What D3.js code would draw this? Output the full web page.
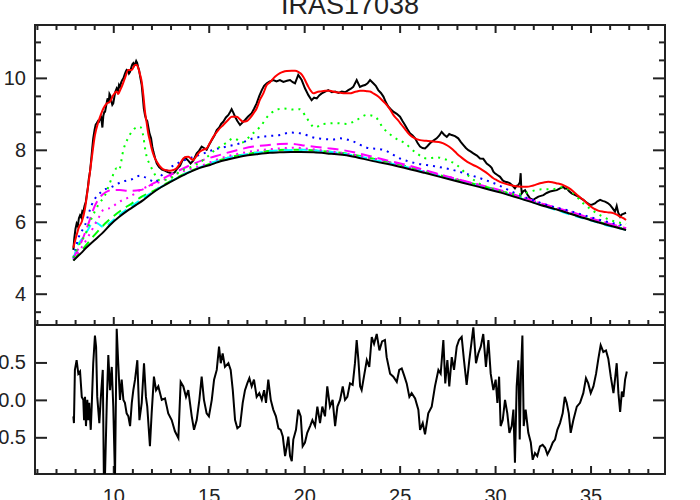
<!DOCTYPE html>
<html>
<head>
<meta charset="utf-8">
<script src="https://cdn.jsdelivr.net/npm/d3@7/dist/d3.min.js"></script>
<style>
  body { margin: 0; background: #fff; }
  svg { display: block; }
  text { font-family: "Liberation Sans", Arial, sans-serif; fill: #222; }
</style>
</head>
<body>
<svg id="chart" width="700" height="500"></svg>
<script>

var title = "IRAS17038";
var xTicks = [10, 15, 20, 25, 30, 35];
var fluxTicks = [4, 6, 8, 10];
var residTicks = [-0.5, 0, 0.5];
var residLabels = ["-0.5", "0.0", "0.5"];

// observed spectrum [wavelength, flux]
var spectrum = [[7.91,5.22],[7.96,5.55],[8.02,5.80],[8.08,5.95],[8.14,5.88],[8.20,6.10],[8.26,6.18],[8.32,6.12],[8.38,6.30],[8.43,6.28],[8.50,6.45],[8.56,6.55],[8.61,6.74],[8.67,6.95],[8.72,7.20],[8.78,7.39],[8.84,7.70],[8.90,8.05],[8.95,8.32],[9.02,8.55],[9.08,8.70],[9.13,8.74],[9.20,8.80],[9.25,8.78],[9.30,8.85],[9.37,8.90],[9.43,8.62],[9.48,8.95],[9.53,9.05],[9.57,9.06],[9.62,9.20],[9.67,9.35],[9.71,9.43],[9.76,9.30],[9.80,9.55],[9.85,9.50],[9.90,9.35],[9.95,9.25],[10.00,9.29],[10.05,9.45],[10.10,9.60],[10.18,9.71],[10.25,9.65],[10.30,9.80],[10.35,9.75],[10.42,9.88],[10.48,9.95],[10.53,9.99],[10.60,10.10],[10.66,10.18],[10.70,10.22],[10.76,10.20],[10.82,10.12],[10.88,10.17],[10.95,10.30],[11.00,10.38],[11.05,10.41],[11.10,10.35],[11.15,10.40],[11.20,10.47],[11.25,10.42],[11.30,10.30],[11.35,10.22],[11.42,10.00],[11.49,9.80],[11.55,9.45],[11.60,9.15],[11.66,8.97],[11.72,8.85],[11.78,8.80],[11.83,8.65],[11.90,8.45],[11.98,8.32],[12.04,8.10],[12.10,7.95],[12.20,7.75],[12.28,7.62],[12.40,7.52],[12.55,7.45],[12.70,7.42],[12.85,7.38],[12.97,7.36],[13.10,7.33],[13.23,7.38],[13.35,7.48],[13.50,7.56],[13.62,7.70],[13.76,7.78],[13.85,7.74],[13.93,7.70],[14.05,7.62],[14.19,7.70],[14.30,7.82],[14.37,7.90],[14.50,7.98],[14.63,8.09],[14.75,8.05],[14.89,8.00],[15.00,8.12],[15.16,8.27],[15.30,8.40],[15.42,8.55],[15.55,8.62],[15.65,8.72],[15.76,8.78],[15.90,8.90],[16.03,8.97],[16.12,9.05],[16.20,9.13],[16.30,9.02],[16.38,8.92],[16.50,8.80],[16.64,8.69],[16.75,8.75],[16.90,8.83],[17.05,8.92],[17.25,9.02],[17.38,9.15],[17.51,9.29],[17.65,9.50],[17.78,9.66],[17.90,9.78],[18.04,9.85],[18.20,9.90],[18.38,9.94],[18.55,9.90],[18.73,9.94],[18.91,9.89],[19.10,9.92],[19.26,9.94],[19.40,9.88],[19.52,9.85],[19.69,10.08],[19.87,9.94],[20.04,9.71],[20.22,9.52],[20.39,9.38],[20.52,9.45],[20.66,9.43],[20.80,9.52],[20.92,9.57],[21.10,9.62],[21.26,9.66],[21.45,9.60],[21.62,9.62],[21.80,9.58],[21.97,9.62],[22.15,9.60],[22.31,9.66],[22.45,9.70],[22.57,9.75],[22.75,9.94],[22.92,9.75],[23.05,9.78],[23.19,9.80],[23.32,9.85],[23.45,9.94],[23.62,9.85],[23.75,9.78],[23.88,9.66],[24.02,9.58],[24.15,9.48],[24.28,9.32],[24.41,9.20],[24.55,9.12],[24.67,9.06],[24.85,9.00],[25.02,8.92],[25.15,8.80],[25.28,8.69],[25.40,8.58],[25.54,8.46],[25.68,8.40],[25.81,8.32],[25.95,8.18],[26.07,8.09],[26.20,8.05],[26.33,8.04],[26.45,8.10],[26.59,8.18],[26.75,8.25],[26.94,8.32],[27.08,8.40],[27.20,8.50],[27.33,8.42],[27.47,8.36],[27.60,8.44],[27.73,8.41],[27.90,8.38],[28.07,8.32],[28.20,8.22],[28.34,8.13],[28.47,8.05],[28.60,7.99],[28.73,7.95],[28.86,7.90],[29.05,7.84],[29.21,7.76],[29.38,7.75],[29.56,7.62],[29.73,7.55],[29.82,7.50],[29.91,7.39],[29.99,7.35],[30.12,7.30],[30.26,7.25],[30.40,7.15],[30.52,7.11],[30.65,7.10],[30.78,7.07],[30.92,7.00],[31.04,6.93],[31.13,7.00],[31.22,7.02],[31.30,7.10],[31.34,7.35],[31.37,6.95],[31.40,6.79],[31.48,6.85],[31.57,6.88],[31.70,6.75],[31.83,6.65],[32.00,6.61],[32.14,6.66],[32.27,6.70],[32.40,6.72],[32.53,6.74],[32.70,6.80],[32.88,6.84],[33.05,6.86],[33.23,6.88],[33.40,6.93],[33.57,6.97],[33.66,6.92],[33.75,6.93],[33.88,6.85],[34.01,6.79],[34.20,6.74],[34.36,6.70],[34.50,6.65],[34.62,6.61],[34.80,6.53],[34.97,6.47],[35.10,6.48],[35.23,6.51],[35.36,6.57],[35.50,6.61],[35.63,6.58],[35.76,6.56],[35.90,6.52],[36.02,6.47],[36.15,6.38],[36.28,6.28],[36.37,6.44],[36.45,6.25],[36.55,6.14],[36.63,6.20],[36.72,6.22],[36.86,6.25]];

// total model (red)
var totalFit = [[7.91,5.28],[8.08,5.63],[8.20,5.85],[8.35,6.00],[8.52,6.37],[8.69,7.02],[8.87,7.76],[9.04,8.41],[9.22,8.78],[9.35,8.98],[9.48,9.15],[9.66,9.29],[9.83,9.34],[10.00,9.52],[10.18,9.62],[10.26,9.55],[10.35,9.65],[10.44,9.75],[10.61,9.99],[10.79,10.22],[10.97,10.22],[11.14,10.36],[11.23,10.36],[11.31,10.27],[11.40,10.10],[11.49,9.89],[11.58,9.50],[11.66,9.06],[11.75,8.75],[11.83,8.46],[11.92,8.25],[12.01,8.04],[12.14,7.82],[12.28,7.67],[12.54,7.49],[12.71,7.44],[12.97,7.42],[13.15,7.44],[13.32,7.49],[13.50,7.62],[13.67,7.76],[13.80,7.80],[13.93,7.81],[14.05,7.76],[14.19,7.72],[14.35,7.82],[14.54,7.95],[14.70,8.00],[14.89,8.04],[15.05,8.18],[15.24,8.36],[15.50,8.55],[15.76,8.69],[16.00,8.82],[16.20,8.92],[16.47,8.92],[16.65,8.84],[16.81,8.78],[17.00,8.80],[17.16,8.88],[17.35,9.02],[17.51,9.15],[17.69,9.40],[17.86,9.57],[18.04,9.80],[18.21,9.88],[18.47,10.03],[18.73,10.13],[18.91,10.17],[19.10,10.19],[19.35,10.20],[19.52,10.20],[19.69,10.17],[19.82,10.12],[19.95,10.03],[20.08,9.90],[20.22,9.75],[20.35,9.64],[20.48,9.57],[20.65,9.60],[20.83,9.62],[21.10,9.64],[21.35,9.64],[21.60,9.61],[21.87,9.59],[22.15,9.57],[22.40,9.57],[22.60,9.60],[22.75,9.62],[22.92,9.64],[23.10,9.64],[23.28,9.63],[23.45,9.62],[23.65,9.56],[23.88,9.48],[24.10,9.37],[24.32,9.25],[24.50,9.12],[24.67,8.97],[24.90,8.83],[25.11,8.69],[25.32,8.55],[25.54,8.41],[25.80,8.32],[26.07,8.27],[26.40,8.25],[26.76,8.23],[27.05,8.22],[27.29,8.18],[27.50,8.12],[27.75,8.02],[27.99,7.90],[28.16,7.82],[28.40,7.72],[28.69,7.62],[29.04,7.53],[29.38,7.42],[29.65,7.32],[29.91,7.21],[30.08,7.16],[30.40,7.08],[30.78,7.02],[31.20,6.98],[31.66,6.97],[32.00,7.01],[32.35,7.07],[32.60,7.10],[32.79,7.11],[33.00,7.10],[33.20,7.07],[33.40,7.05],[33.57,7.02],[33.85,6.94],[34.10,6.84],[34.35,6.72],[34.62,6.61],[34.90,6.47],[35.15,6.37],[35.40,6.31],[35.67,6.28],[35.95,6.26],[36.19,6.24],[36.40,6.19],[36.55,6.14],[36.72,6.10],[36.86,6.05]];

// underlying continuum (black, smooth)
var continuum = [[7.91,4.92],[8.30,5.12],[8.61,5.29],[9.00,5.48],[9.40,5.67],[9.83,5.91],[10.30,6.13],[10.80,6.33],[11.20,6.47],[11.57,6.60],[12.00,6.78],[12.50,6.96],[13.00,7.11],[13.32,7.20],[14.00,7.38],[14.50,7.49],[15.07,7.58],[15.50,7.66],[16.00,7.73],[16.81,7.83],[17.50,7.88],[18.20,7.92],[18.73,7.93],[19.30,7.94],[19.80,7.94],[20.50,7.93],[21.20,7.90],[22.40,7.83],[23.50,7.70],[25.00,7.53],[26.30,7.36],[27.60,7.18],[29.00,6.99],[30.30,6.81],[31.30,6.65],[32.30,6.48],[33.50,6.30],[34.60,6.11],[35.70,5.94],[36.86,5.77]];

// components added to the continuum
var greenDotted = [[7.91,5.00],[8.20,5.35],[8.52,5.63],[8.87,6.10],[9.22,6.47],[9.57,6.74],[9.92,7.21],[10.18,7.49],[10.30,7.44],[10.53,8.00],[10.75,8.30],[10.97,8.50],[11.20,8.62],[11.40,8.64],[11.50,8.55],[11.58,8.36],[11.66,8.05],[11.75,7.81],[11.93,7.58],[12.10,7.39],[12.45,7.15],[12.97,7.20],[13.50,7.40],[14.19,7.55],[14.80,7.75],[15.30,7.98],[15.94,8.20],[16.29,8.32],[16.50,8.28],[16.73,8.20],[17.00,8.30],[17.30,8.45],[17.69,8.64],[18.21,9.00],[18.91,9.15],[19.43,9.12],[19.78,9.13],[20.13,8.88],[20.57,8.62],[21.00,8.72],[21.70,8.74],[22.23,8.72],[22.75,8.83],[23.28,8.97],[23.71,8.92],[24.15,8.60],[24.67,8.36],[25.28,8.18],[25.90,7.90],[26.42,7.76],[26.94,7.79],[27.47,7.72],[27.99,7.58],[28.51,7.32],[29.38,7.00],[30.26,6.86],[31.13,6.76],[31.66,6.81],[32.35,6.90],[33.05,6.91],[33.57,6.96],[34.10,6.79],[34.62,6.51],[35.32,6.24],[36.02,6.05],[36.86,5.94]];

var blueDotted = [[7.91,5.00],[8.17,5.54],[8.52,5.91],[8.87,6.47],[9.39,6.84],[9.92,6.97],[10.44,7.11],[10.97,7.18],[11.40,7.28],[11.60,7.25],[11.93,7.16],[12.20,7.10],[12.45,7.25],[12.97,7.50],[13.67,7.70],[14.54,7.86],[15.24,8.00],[15.94,8.09],[16.64,8.18],[17.34,8.32],[18.04,8.38],[18.73,8.41],[19.26,8.48],[19.78,8.46],[20.66,8.32],[21.53,8.29],[21.88,8.32],[22.57,8.23],[23.28,8.06],[24.15,8.00],[25.02,7.76],[25.90,7.62],[26.76,7.55],[27.64,7.46],[28.51,7.33],[29.38,7.18],[30.26,7.00],[30.78,6.86],[31.83,6.63],[32.88,6.44],[33.93,6.30],[34.97,6.13],[36.02,5.98],[36.86,5.88]];

var magentaDashed = [[7.91,4.98],[8.30,5.40],[8.70,5.95],[9.00,6.40],[9.30,6.68],[9.60,6.82],[9.92,6.88],[10.35,6.88],[10.79,6.86],[11.40,6.88],[12.10,7.07],[12.97,7.30],[13.85,7.53],[14.72,7.72],[15.59,7.86],[16.47,7.99],[17.34,8.09],[18.04,8.13],[18.73,8.16],[19.26,8.17],[20.13,8.11],[21.18,8.05],[22.05,7.99],[23.10,7.87],[24.15,7.73],[25.20,7.60],[26.24,7.45],[27.29,7.29],[28.34,7.14],[29.38,7.00],[30.26,6.88],[31.50,6.67],[32.80,6.45],[34.00,6.27],[35.50,6.02],[36.86,5.82]];

var magentaDotted = [[7.91,4.95],[8.30,5.25],[8.70,5.60],[9.22,6.10],[9.48,6.33],[9.92,6.40],[10.18,6.51],[10.88,6.70],[11.58,6.93],[12.28,7.07],[12.97,7.25],[13.85,7.44],[14.72,7.58],[15.59,7.76],[16.64,7.90],[17.69,7.99],[18.73,8.04],[19.50,8.06],[20.66,8.00],[22.40,7.88],[24.15,7.70],[25.90,7.45],[27.64,7.24],[29.38,6.98],[31.00,6.73],[32.80,6.45],[34.50,6.18],[36.86,5.82]];

var cyanDashed = [[7.91,4.95],[8.10,5.30],[8.40,5.55],[8.70,5.80],[8.95,6.00],[9.20,5.95],[9.50,5.85],[9.83,5.97],[10.30,6.18],[11.00,6.45],[12.00,6.81],[13.00,7.12],[14.00,7.39],[15.00,7.61],[16.00,7.78],[17.00,7.88],[18.00,7.95],[19.00,7.99],[20.00,8.00],[21.00,7.96],[22.00,7.90],[23.00,7.80],[24.00,7.68],[25.00,7.57],[26.00,7.43],[27.00,7.29],[28.00,7.15],[29.00,7.02],[30.00,6.88],[31.00,6.71],[32.00,6.54],[33.00,6.36],[34.00,6.19],[35.00,6.04],[36.00,5.88],[36.86,5.78]];

var greenDashed = [[7.91,4.93],[8.50,5.30],[9.00,5.62],[9.57,5.95],[10.09,6.19],[10.50,6.35],[11.00,6.52],[11.49,6.70],[12.00,6.83],[13.00,7.13],[14.00,7.40],[15.00,7.60],[16.00,7.78],[17.00,7.88],[18.00,7.96],[19.00,8.00],[20.00,8.00],[21.00,7.96],[22.00,7.91],[23.00,7.82],[24.00,7.71],[25.00,7.59],[26.00,7.45],[27.00,7.31],[28.00,7.17],[29.00,7.04],[30.00,6.90],[31.00,6.74],[32.00,6.57],[33.00,6.39],[34.00,6.22],[35.00,6.06],[36.00,5.91],[36.86,5.79]];

// residuals (lower panel)
var residual = [[7.91,-0.22],[7.94,-0.31],[7.99,0.40],[8.08,0.53],[8.17,0.35],[8.26,0.38],[8.35,0.04],[8.43,0.0],[8.47,-0.27],[8.52,0.04],[8.57,-0.35],[8.64,0.0],[8.69,-0.27],[8.74,-0.04],[8.82,-0.40],[8.87,-0.09],[8.95,0.49],[9.04,0.86],[9.10,0.71],[9.16,0.04],[9.27,-0.31],[9.34,0.0],[9.45,0.40],[9.51,-1.10],[9.57,-0.97],[9.66,-0.04],[9.74,0.60],[9.83,0.13],[9.92,0.44],[10.00,-0.09],[10.09,-1.05],[10.18,0.95],[10.26,0.49],[10.35,0.0],[10.44,0.27],[10.53,0.0],[10.61,-0.04],[10.70,-0.18],[10.79,-0.22],[10.88,-0.35],[10.97,-0.04],[11.05,0.13],[11.14,0.27],[11.26,0.53],[11.37,-0.27],[11.49,-0.04],[11.61,0.49],[11.71,0.04],[11.78,-0.09],[11.92,-0.62],[12.01,-0.18],[12.13,0.31],[12.24,0.13],[12.36,0.18],[12.54,0.0],[12.71,0.02],[12.88,-0.18],[13.06,-0.27],[13.23,-0.42],[13.41,-0.51],[13.53,0.24],[13.67,0.18],[13.81,0.04],[13.93,0.13],[14.11,-0.22],[14.23,-0.40],[14.37,-0.27],[14.51,0.0],[14.63,0.31],[14.75,0.0],[14.89,-0.18],[15.01,-0.22],[15.16,0.0],[15.28,0.27],[15.42,0.40],[15.54,0.71],[15.63,0.49],[15.73,0.62],[15.85,0.44],[16.03,0.49],[16.15,0.40],[16.26,0.13],[16.38,-0.27],[16.50,-0.38],[16.64,-0.35],[16.78,-0.04],[16.90,0.13],[17.02,0.22],[17.13,0.29],[17.25,0.18],[17.37,0.27],[17.51,0.04],[17.65,0.09],[17.78,0.0],[17.90,0.13],[18.00,-0.04],[18.12,0.27],[18.25,0.0],[18.38,-0.13],[18.52,-0.22],[18.65,-0.38],[18.77,-0.40],[18.88,-0.49],[19.00,-0.75],[19.09,-0.62],[19.17,-0.49],[19.26,-0.75],[19.35,-0.82],[19.43,-0.53],[19.57,-0.40],[19.69,-0.13],[19.82,-0.22],[19.92,-0.62],[20.04,-0.57],[20.16,-0.44],[20.31,-0.35],[20.43,-0.27],[20.57,-0.35],[20.69,-0.09],[20.83,-0.31],[20.95,-0.09],[21.09,-0.22],[21.21,0.18],[21.35,-0.09],[21.49,0.0],[21.62,-0.35],[21.74,-0.09],[21.88,0.0],[22.02,0.18],[22.14,0.0],[22.26,0.04],[22.40,0.22],[22.54,0.20],[22.66,0.49],[22.75,0.80],[22.84,0.53],[22.93,0.18],[23.01,0.13],[23.13,0.31],[23.28,0.53],[23.41,0.44],[23.54,0.84],[23.66,0.75],[23.80,0.88],[23.94,0.66],[24.08,0.78],[24.23,0.80],[24.32,0.57],[24.50,0.35],[24.67,0.31],[24.85,0.24],[24.98,0.40],[25.11,0.42],[25.23,0.33],[25.37,0.22],[25.51,0.04],[25.63,0.09],[25.81,0.02],[25.98,-0.13],[26.07,-0.40],[26.21,-0.31],[26.33,-0.46],[26.50,-0.18],[26.68,-0.09],[26.85,0.18],[27.03,0.40],[27.15,0.35],[27.29,0.80],[27.39,0.22],[27.50,0.53],[27.60,0.18],[27.73,0.57],[27.85,0.40],[27.99,0.71],[28.11,0.80],[28.25,0.84],[28.37,0.53],[28.51,0.20],[28.65,0.53],[28.78,0.80],[28.86,0.97],[29.00,0.49],[29.12,0.62],[29.25,0.71],[29.38,0.88],[29.52,0.44],[29.65,0.80],[29.77,0.35],[29.91,0.13],[30.03,0.27],[30.12,-0.04],[30.21,0.31],[30.29,-0.35],[30.40,-0.27],[30.52,0.0],[30.64,-0.18],[30.75,-0.44],[30.87,-0.35],[30.96,-0.13],[31.04,-0.84],[31.13,0.18],[31.22,0.53],[31.29,-0.53],[31.36,0.40],[31.43,0.86],[31.50,-0.35],[31.60,-0.13],[31.74,-0.44],[31.87,-0.57],[31.97,-0.80],[32.09,-0.71],[32.21,-0.75],[32.35,-0.62],[32.49,-0.60],[32.62,-0.64],[32.74,-0.73],[32.88,-0.66],[33.02,-0.57],[33.14,-0.53],[33.26,-0.40],[33.40,-0.31],[33.54,-0.18],[33.65,0.04],[33.75,-0.04],[33.86,-0.18],[33.96,-0.44],[34.10,-0.27],[34.28,-0.09],[34.45,-0.04],[34.62,0.09],[34.76,0.29],[34.88,0.22],[35.01,0.09],[35.15,0.18],[35.29,0.35],[35.41,0.55],[35.53,0.73],[35.67,0.64],[35.81,0.66],[35.93,0.55],[36.06,0.31],[36.20,0.09],[36.28,0.27],[36.37,0.49],[36.46,0.09],[36.55,-0.16],[36.64,0.11],[36.72,0.04],[36.81,0.27],[36.90,0.38]];


var svg = d3.select("#chart");

var left = 35, right = 665,
    topY = 25, midY = 325, botY = 474;

var x = d3.scaleLinear().domain([5.9, 38.9]).range([left, right]);
var yTop = d3.scaleLinear().domain([3.13, 11.47]).range([midY, topY]);
var yBot = d3.scaleLinear().domain([-0.99, 1.0]).range([botY, midY]);

var xMinor = d3.range(6, 39).filter(function(v) { return v % 5 != 0; });
var fluxMinor = d3.range(3.5, 11.5, 0.5).filter(function(v) { return v % 2 != 0; });

// clip areas for both panels
var defs = svg.append("defs");
defs.append("clipPath").attr("id", "clipTop")
  .append("rect").attr("x", left).attr("y", topY)
  .attr("width", right - left).attr("height", midY - topY);
defs.append("clipPath").attr("id", "clipBot")
  .append("rect").attr("x", left).attr("y", midY)
  .attr("width", right - left).attr("height", botY - midY);

function styleAxis(g) {
  g.select(".domain").remove();
  g.selectAll(".tick line").attr("stroke", "#222").attr("stroke-width", 2);
  g.selectAll("text").style("font-size", "20px")
    .style("font-family", '"Liberation Sans", Arial, sans-serif').attr("fill", "#222");
}

// ----- top panel axes
svg.append("g").attr("transform", "translate(0," + midY + ")")
  .call(d3.axisTop(x).tickValues(xTicks).tickSize(8).tickFormat(""))
  .call(styleAxis);
svg.append("g").attr("transform", "translate(0," + midY + ")")
  .call(d3.axisTop(x).tickValues(xMinor).tickSize(5).tickFormat(""))
  .call(styleAxis);
svg.append("g").attr("transform", "translate(0," + topY + ")")
  .call(d3.axisBottom(x).tickValues(xTicks).tickSize(8).tickFormat(""))
  .call(styleAxis);
svg.append("g").attr("transform", "translate(0," + topY + ")")
  .call(d3.axisBottom(x).tickValues(xMinor).tickSize(5).tickFormat(""))
  .call(styleAxis);

svg.append("g").attr("transform", "translate(" + left + ",0)")
  .call(d3.axisLeft(yTop).tickValues(fluxTicks).tickSizeInner(-12).tickSizeOuter(0)
    .tickPadding(9).tickFormat(d3.format("d")))
  .call(styleAxis);
svg.append("g").attr("transform", "translate(" + left + ",0)")
  .call(d3.axisLeft(yTop).tickValues(fluxMinor).tickSizeInner(-6).tickSizeOuter(0).tickFormat(""))
  .call(styleAxis);
svg.append("g").attr("transform", "translate(" + right + ",0)")
  .call(d3.axisRight(yTop).tickValues(fluxTicks).tickSizeInner(-12).tickSizeOuter(0).tickFormat(""))
  .call(styleAxis);
svg.append("g").attr("transform", "translate(" + right + ",0)")
  .call(d3.axisRight(yTop).tickValues(fluxMinor).tickSizeInner(-6).tickSizeOuter(0).tickFormat(""))
  .call(styleAxis);

// ----- bottom panel axes
svg.append("g").attr("transform", "translate(0," + botY + ")")
  .call(d3.axisBottom(x).tickValues(xTicks).tickSizeInner(-8).tickSizeOuter(0)
    .tickPadding(15).tickFormat(d3.format("d")))
  .call(styleAxis);
svg.append("g").attr("transform", "translate(0," + botY + ")")
  .call(d3.axisBottom(x).tickValues(xMinor).tickSizeInner(-5).tickSizeOuter(0).tickFormat(""))
  .call(styleAxis);
svg.append("g").attr("transform", "translate(" + left + ",0)")
  .call(d3.axisLeft(yBot).tickValues(residTicks).tickSizeInner(-12).tickSizeOuter(0)
    .tickPadding(9).tickFormat(function(d, i) { return residLabels[i]; }))
  .call(styleAxis);
svg.append("g").attr("transform", "translate(" + right + ",0)")
  .call(d3.axisRight(yBot).tickValues(residTicks).tickSizeInner(-12).tickSizeOuter(0).tickFormat(""))
  .call(styleAxis);

// frames
svg.append("rect").attr("x", left).attr("y", topY)
  .attr("width", right - left).attr("height", midY - topY)
  .attr("fill", "none").attr("stroke", "#222").attr("stroke-width", 2);
svg.append("rect").attr("x", left).attr("y", midY)
  .attr("width", right - left).attr("height", botY - midY)
  .attr("fill", "none").attr("stroke", "#222").attr("stroke-width", 2);

// title
svg.append("text")
  .attr("x", (left + right) / 2)
  .attr("y", 13.5)
  .attr("text-anchor", "middle")
  .style("font-size", "27px")
  .text(title);

// ----- top panel lines
var topPanel = svg.append("g").attr("clip-path", "url(#clipTop)");

var rough = d3.line().x(function(d) { return x(d[0]); }).y(function(d) { return yTop(d[1]); });
var smooth = d3.line().curve(d3.curveMonotoneX)
  .x(function(d) { return x(d[0]); }).y(function(d) { return yTop(d[1]); });

function addLine(data, gen, color, dash) {
  topPanel.append("path")
    .datum(data)
    .attr("d", gen)
    .attr("fill", "none")
    .attr("stroke", color)
    .attr("stroke-width", 2)
    .attr("stroke-dasharray", dash || null);
}

addLine(spectrum, rough, "#000");
addLine(greenDashed, smooth, "#00ff00", "9,6");
addLine(cyanDashed, smooth, "#00ffff", "9,6");
addLine(magentaDotted, smooth, "#ff00ff", "2,5");
addLine(magentaDashed, smooth, "#ff00ff", "11,6");
addLine(blueDotted, smooth, "#0000ff", "2,5");
addLine(greenDotted, smooth, "#00ff00", "2,5");
addLine(continuum, smooth, "#000");
addLine(totalFit, smooth, "#ff0000");

// ----- residual line
svg.append("g").attr("clip-path", "url(#clipBot)")
  .append("path")
  .datum(residual)
  .attr("d", d3.line().x(function(d) { return x(d[0]); }).y(function(d) { return yBot(d[1]); }))
  .attr("fill", "none")
  .attr("stroke", "#000")
  .attr("stroke-width", 2);

</script>
</body>
</html>
